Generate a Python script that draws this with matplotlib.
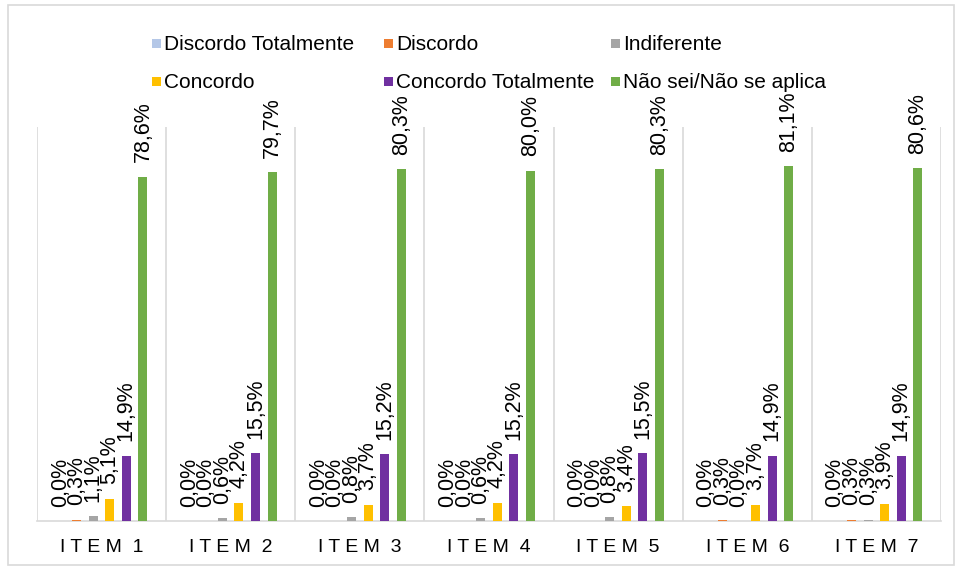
import matplotlib
matplotlib.use("Agg")
import matplotlib.pyplot as plt
import numpy as np
from matplotlib.patches import Rectangle

categories = ["ITEM 1", "ITEM 2", "ITEM 3", "ITEM 4", "ITEM 5", "ITEM 6", "ITEM 7"]
series_names = ["Discordo Totalmente", "Discordo", "Indiferente",
                "Concordo", "Concordo Totalmente", "Não sei/Não se aplica"]
discordo_totalmente = [0.0, 0.0, 0.0, 0.0, 0.0, 0.0, 0.0]
discordo = [0.3, 0.0, 0.0, 0.0, 0.0, 0.3, 0.3]
indiferente = [1.1, 0.6, 0.8, 0.6, 0.8, 0.0, 0.3]
concordo = [5.1, 4.2, 3.7, 4.2, 3.4, 3.7, 3.9]
concordo_totalmente = [14.9, 15.5, 15.2, 15.2, 15.5, 14.9, 14.9]
nao_sei = [78.6, 79.7, 80.3, 80.0, 80.3, 81.1, 80.6]
colors = ["#B4C7E7", "#ED7D31", "#A5A5A5", "#FFC000", "#7030A0", "#70AD47"]

series = [discordo_totalmente, discordo, indiferente, concordo, concordo_totalmente, nao_sei]
FONT = "Liberation Sans"

fig = plt.figure(figsize=(9.56, 5.69), dpi=100)
W, H = 956, 569
ax = fig.add_axes([37/W, 1-521/H, (941-37)/W, (521-127)/H])

n = len(series)
slot = 0.128
width = 0.07
x = np.arange(len(categories))
for i, (vals, name, c) in enumerate(zip(series, series_names, colors)):
    pos = x + (i - (n - 1) / 2) * slot
    bars = ax.bar(pos, vals, width=width, color=c, label=name, zorder=3)
    for b, v in zip(bars, vals):
        ax.text(b.get_x() + b.get_width() / 2, v + 3.3, f"{v:.1f}%".replace(".", ","),
                rotation=90, ha="center", va="bottom", fontsize=15.5, color="black",
                family=FONT, zorder=4)

ax.set_xlim(-0.5, len(categories) - 0.5)
ax.set_ylim(0, 90)
for b in np.arange(-0.5, len(categories), 1.0):
    ax.axvline(b, color="#D9D9D9", lw=1.2, zorder=1)
for s in ["top", "right", "left"]:
    ax.spines[s].set_visible(False)
ax.spines["bottom"].set_color("#D9D9D9")
ax.spines["bottom"].set_linewidth(1.2)
ax.set_yticks([])
ax.set_xticks(x)
ax.set_xticklabels([" ".join(c.split(" ")[0]) + "  " + c.split(" ")[1] for c in categories],
                   fontsize=14, family=FONT)
ax.tick_params(axis="x", length=0, pad=13)

# legend laid out row by row in fixed-width columns
col_x = [152, 384, 611]
row_y = [43, 81]
sq = 9
for k, (name, c) in enumerate(zip(series_names, colors)):
    r, cc = divmod(k, 3)
    x0, y0 = col_x[cc], row_y[r]
    fig.patches.append(Rectangle((x0/W, 1-(y0+sq/2)/H), sq/W, sq/H, transform=fig.transFigure,
                                 facecolor=c, edgecolor="none"))
    fig.text((x0+sq+3)/W, 1-(y0+1)/H, name, ha="left", va="center", fontsize=15,
             family=FONT, color="black")

fig.patches.append(Rectangle((8/W, 4/H), 946/W, 560/H, transform=fig.transFigure,
                             fill=False, edgecolor="#D9D9D9", lw=1.2))
fig.savefig("out.png", dpi=100)
